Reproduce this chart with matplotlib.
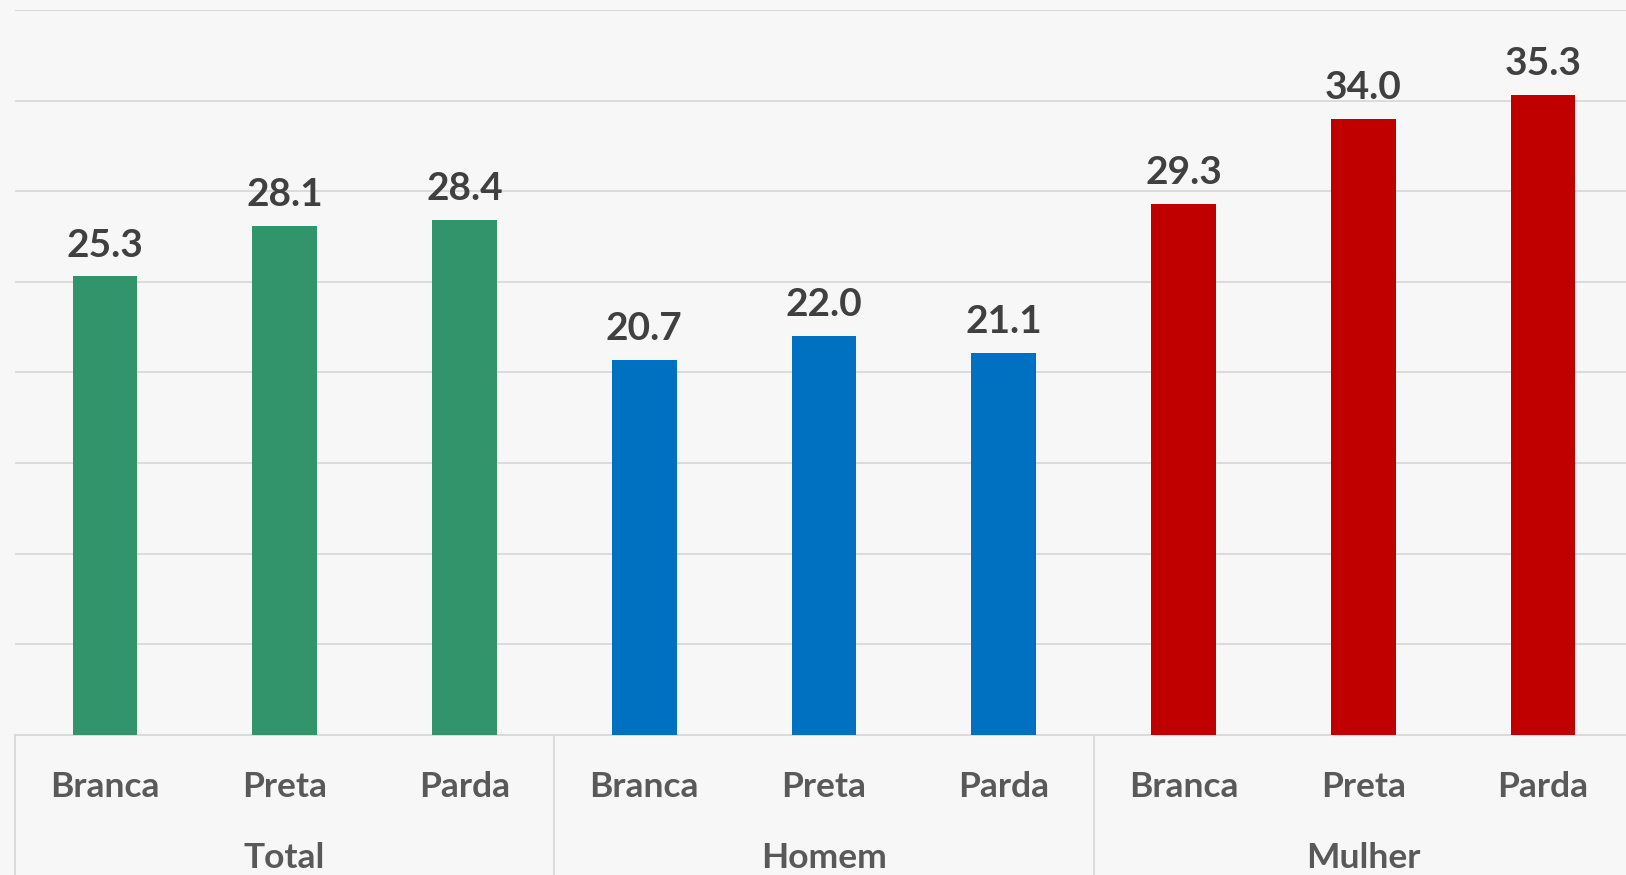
import matplotlib.pyplot as plt

# data
groups = ['Total', 'Homem', 'Mulher']
races = ['Branca', 'Preta', 'Parda']
total = [25.3, 28.1, 28.4]
homem = [20.7, 22.0, 21.1]
mulher = [29.3, 34.0, 35.3]
group_colors = ['#31946A', '#0070C0', '#C00000']

plt.rcParams['font.family'] = ['Lato', 'DejaVu Sans']

fig = plt.figure(figsize=(16.26, 8.75), dpi=100, facecolor='#F7F7F7')
ax = fig.add_axes([15 / 1626, 1 - 735 / 875, 1618 / 1626, (735 - 10) / 875])
ax.set_facecolor('#F7F7F7')

values = total + homem + mulher
colors = [c for c in group_colors for _ in races]
labels = races * len(groups)
x = list(range(len(values)))

ax.bar(x, values, width=0.36, color=colors, zorder=3)
for xi, v in zip(x, values):
    ax.annotate(f'{v:.1f}', (xi, v), xytext=(0, 10), textcoords='offset points',
                ha='center', va='bottom', fontsize=28, fontweight='bold',
                color='#404040')

ax.set_xlim(-0.5, len(values) - 0.5)
ax.set_ylim(0, 40)
ax.set_yticks(range(0, 41, 5))
ax.yaxis.grid(True, color='#D9D9D9', linewidth=1.3, zorder=0)
ax.tick_params(axis='y', left=False, labelleft=False)
ax.set_xticks(x)
ax.set_xticklabels(labels, fontsize=25.5, fontweight='bold', color='#595959')
ax.tick_params(axis='x', length=0, pad=26)

for s in ['top', 'right', 'left']:
    ax.spines[s].set_visible(False)
ax.spines['bottom'].set_color('#D9D9D9')
ax.spines['bottom'].set_linewidth(1.3)

# group separators and group names
trans = ax.get_xaxis_transform()
for sep in [-0.5, 2.5, 5.5]:
    ax.plot([sep, sep], [0, -0.25], transform=trans, color='#D9D9D9',
            linewidth=1.3, clip_on=False)
for i, g in enumerate(groups):
    ax.text(i * 3 + 1, -0.17, g, transform=trans, ha='center', va='center',
            fontsize=25.5, fontweight='bold', color='#595959')

fig.savefig('out.png', dpi=100, facecolor=fig.get_facecolor())
